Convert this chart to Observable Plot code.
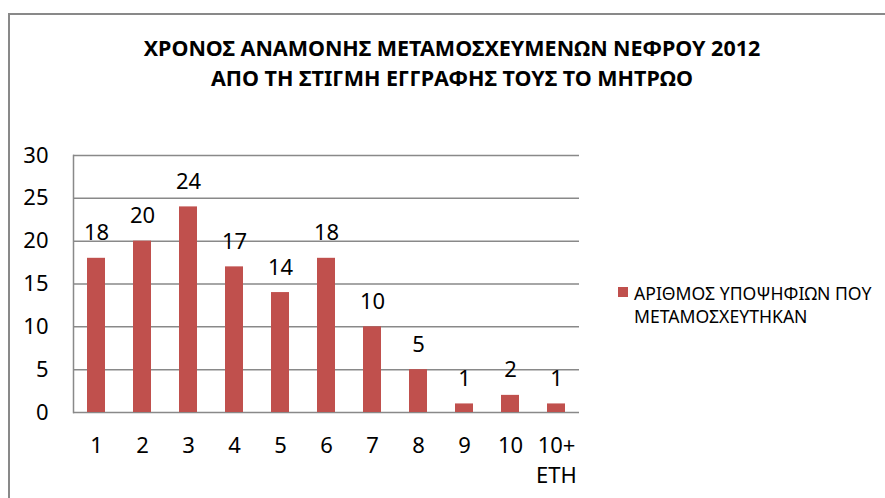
<!DOCTYPE html>
<html><head><meta charset="utf-8">
<script src="https://cdn.jsdelivr.net/npm/d3@7"></script>
<script src="https://cdn.jsdelivr.net/npm/@observablehq/plot@0.6"></script>
<style>
body{margin:0;background:#fff;overflow:hidden}
#wrap{position:relative;width:885px;height:498px;overflow:hidden;font-family:"Noto Sans",sans-serif;color:#000}
#border{position:absolute;left:8px;top:13px;width:1000px;height:1000px;border:2px solid #898989;box-sizing:border-box}
#title{position:absolute;left:0;top:33px;width:904px;text-align:center;font-weight:bold;font-size:21.5px;line-height:30px}
#legend{position:absolute;left:618px;top:282px;font-size:17.6px;line-height:23px}
#legend .sw{position:absolute;left:0;top:5px;width:10px;height:10px}
#legend .tx{position:absolute;left:16px;top:0;white-space:nowrap}
#chart{position:absolute;left:0;top:0}
</style></head>
<body><div id="wrap"><div id="border"></div><div id="title"></div><div id="chart"></div><div id="legend"></div></div>
<script>
const titleLines = ["ΧΡΟΝΟΣ ΑΝΑΜΟΝΗΣ ΜΕΤΑΜΟΣΧΕΥΜΕΝΩΝ ΝΕΦΡΟΥ 2012", "ΑΠΟ ΤΗ ΣΤΙΓΜΗ ΕΓΓΡΑΦΗΣ ΤΟΥΣ ΤΟ ΜΗΤΡΩΟ"];
const categories = ["1","2","3","4","5","6","7","8","9","10","10+\nΕΤΗ"];
const values = [18,20,24,17,14,18,10,5,1,2,1];
const yTicks = [0,5,10,15,20,25,30];
const seriesLines = ["ΑΡΙΘΜΟΣ ΥΠΟΨΗΦΙΩΝ ΠΟΥ", "ΜΕΤΑΜΟΣΧΕΥΤΗΚΑΝ"];
const barColor = "#C0504D";
const gridColor = "#898989";

const data = categories.map((c, i) => ({cat: c, value: values[i]}));

document.getElementById("title").innerHTML = titleLines.join("<br>");
const lg = document.getElementById("legend");
lg.innerHTML = `<div class="sw" style="background:${barColor}"></div><div class="tx">${seriesLines.join("<br>")}</div>`;

const chart = Plot.plot({
  width: 885, height: 498,
  marginLeft: 73, marginRight: 306, marginTop: 155, marginBottom: 86,
  style: {fontFamily: '"Noto Sans", sans-serif', fontSize: "22px", color: "#000", background: "transparent"},
  x: {domain: categories, paddingInner: 0.61, paddingOuter: 0.305, label: null},
  y: {domain: [0, 30], label: null},
  marks: [
    Plot.ruleY(yTicks, {stroke: gridColor, strokeWidth: 1.5}),
    Plot.frame({anchor: "left", stroke: gridColor, strokeWidth: 1.5}),
    Plot.barY(data, {x: "cat", y: "value", fill: barColor}),
    Plot.text(data, {x: "cat", y: "value", text: d => String(d.value), dy: -25, fontSize: 22}),
    Plot.axisY({ticks: yTicks, tickSize: 0, tickPadding: 25, label: null, fontSize: 22}),
    Plot.axisX({tickSize: 0, tickPadding: 19, label: null, fontSize: 22, lineHeight: 1.38})
  ]
});
document.getElementById("chart").appendChild(chart);
</script></body></html>
